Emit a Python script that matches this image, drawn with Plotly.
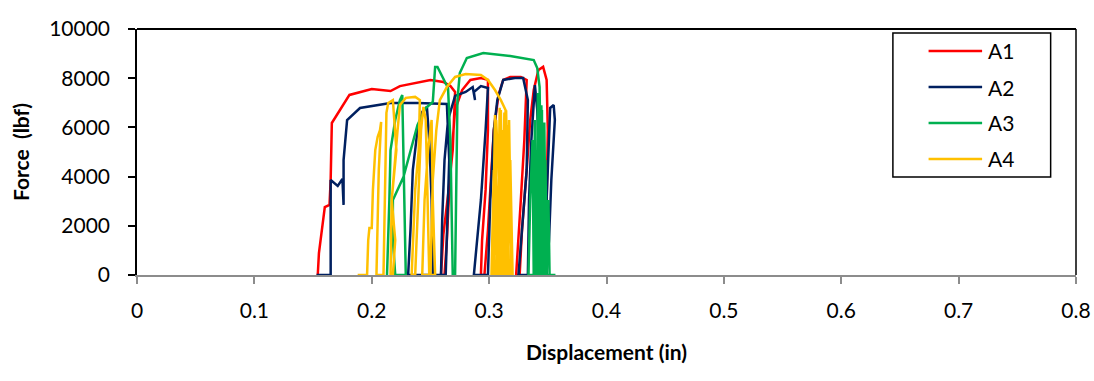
import plotly.graph_objects as go

# Series labels and line colours
series_names = ["A1", "A2", "A3", "A4"]
series_colors = ["#FF0000", "#002060", "#00B050", "#FFC000"]

# A1: displacement (in) and force (lbf)
a1_disp = [0.153, 0.154, 0.155, 0.160, 0.164, 0.165, 0.166, 0.181, 0.200, 0.216,
           0.224, 0.241, 0.250, 0.261, 0.267, 0.271, 0.269, 0.265, 0.261, 0.259,
           0.262, 0.264, 0.266, 0.269, 0.271, 0.277, 0.284, 0.293, 0.299, 0.299,
           0.297, 0.294, 0.293, 0.296, 0.299, 0.302, 0.304, 0.308, 0.312, 0.318,
           0.327, 0.332, 0.330, 0.327, 0.324, 0.323, 0.326, 0.328, 0.332, 0.335,
           0.338, 0.342, 0.346, 0.349, 0.350, 0.349, 0.348]
a1_force = [0, 0, 890, 2760, 2850, 3860, 6180, 7320, 7560, 7480,
            7680, 7850, 7930, 7850, 7680, 7440, 5080, 3250, 1630, 0,
            0, 1420, 3460, 5490, 6710, 7520, 7930, 8010, 7930, 5890,
            3460, 1420, 0, 0, 1830, 4270, 5890, 7320, 7930, 8050,
            8050, 7930, 5490, 3050, 1020, 0, 0, 1830, 4270, 6300,
            7520, 8330, 8460, 7930, 5890, 3050, 0]

# A2
a2_disp = [0.153, 0.165, 0.165, 0.171, 0.175, 0.176, 0.176, 0.179, 0.190, 0.201,
           0.216, 0.239, 0.264, 0.266, 0.264, 0.263, 0.231, 0.233, 0.235, 0.239,
           0.243, 0.247, 0.249, 0.251, 0.252, 0.259, 0.260, 0.262, 0.265, 0.271,
           0.280, 0.286, 0.288, 0.287, 0.293, 0.299, 0.297, 0.293, 0.289, 0.287,
           0.299, 0.301, 0.304, 0.307, 0.312, 0.322, 0.329, 0.333, 0.332, 0.328,
           0.325, 0.333, 0.334, 0.336, 0.339, 0.341, 0.344, 0.345, 0.348, 0.349,
           0.351, 0.352, 0.355, 0.356, 0.353, 0.351, 0.349]
a2_force = [0, 0, 3860, 3620, 3900, 2850, 4670, 6300, 6790, 6870,
            6990, 6990, 6950, 4670, 1830, 0, 0, 1830, 4270, 5890,
            6630, 6830, 5490, 3050, 0, 0, 2240, 4670, 6300, 7280,
            7440, 7640, 7110, 7440, 7680, 7600, 5890, 3050, 1020, 0,
            0, 3050, 5890, 7110, 7930, 8010, 8010, 7110, 4270, 1830,
            0, 0, 3050, 5490, 7720, 6710, 3050, 0, 0, 3050,
            5890, 6790, 6910, 6300, 3860, 1420, 0]

# A3
a3_disp = [0.212, 0.213, 0.215, 0.216, 0.220, 0.224, 0.226, 0.227, 0.228, 0.229,
           0.220, 0.218, 0.218, 0.227, 0.239, 0.246, 0.252, 0.254, 0.256, 0.261,
           0.265, 0.267, 0.268, 0.269, 0.271, 0.272, 0.273, 0.275, 0.281, 0.295,
           0.318, 0.338, 0.341, 0.343, 0.344, 0.345, 0.3335, 0.335, 0.337, 0.338,
           0.339, 0.340, 0.342, 0.343, 0.344, 0.345, 0.3455, 0.3465, 0.347, 0.348,
           0.349, 0.3505, 0.3515, 0.341, 0.3415, 0.343, 0.3445, 0.346, 0.347, 0.3485,
           0.3565]
a3_force = [0, 0, 3050, 5080, 6300, 7110, 7320, 5080, 2240, 0,
            0, 1420, 3050, 3980, 6100, 6790, 7030, 8460, 8460, 8010,
            7600, 5490, 2240, 0, 0, 3860, 7110, 8210, 8820, 9020,
            8900, 8740, 8410, 7640, 3860, 0, 0, 3050, 5490, 0,
            6300, 0, 7110, 3050, 0, 6710, 0, 5890, 0, 4670,
            0, 3050, 0, 0, 7400, 0, 6900, 0, 6200, 0,
            0]

# A4
a4_disp = [0.188, 0.196, 0.197, 0.198, 0.200, 0.201, 0.203, 0.205, 0.207, 0.208,
           0.206, 0.205, 0.204, 0.210, 0.211, 0.212, 0.2125, 0.214, 0.218, 0.221,
           0.217, 0.220, 0.218, 0.216, 0.217, 0.222, 0.224, 0.229, 0.237, 0.241,
           0.240, 0.237, 0.235, 0.234, 0.237, 0.239, 0.241, 0.242, 0.244, 0.246,
           0.247, 0.248, 0.249, 0.243, 0.245, 0.248, 0.251, 0.252, 0.254, 0.250,
           0.252, 0.255, 0.258, 0.264, 0.271, 0.280, 0.293, 0.299, 0.305, 0.310,
           0.314, 0.313, 0.310, 0.307, 0.310, 0.312, 0.304, 0.306, 0.309, 0.306,
           0.309, 0.311, 0.315, 0.313, 0.316, 0.317, 0.316, 0.302, 0.304, 0.307,
           0.310, 0.312, 0.310, 0.314, 0.317, 0.319, 0.318, 0.320, 0.303, 0.305,
           0.307, 0.309, 0.311, 0.313, 0.315, 0.317, 0.319, 0.3165, 0.3145, 0.312,
           0.308, 0.3095, 0.306]
a4_force = [0, 0, 1420, 1910, 1910, 3460, 5080, 5610, 5890, 6220,
            4270, 1830, 0, 0, 3050, 5490, 6590, 6990, 7110, 5080,
            3050, 1420, 0, 0, 3050, 5890, 6910, 7200, 7240, 7110,
            5080, 3460, 1420, 0, 0, 2240, 4270, 5890, 6830, 6300,
            4270, 2240, 0, 0, 3050, 5080, 6300, 3050, 0, 0,
            3860, 5890, 7110, 7640, 8050, 8170, 8130, 7930, 7520, 7110,
            6710, 3860, 0, 0, 5080, 0, 0, 6300, 3050, 0,
            0, 5890, 0, 0, 6100, 3050, 0, 0, 4270, 0,
            6710, 0, 0, 5490, 0, 0, 4670, 0, 0, 6500,
            0, 6800, 0, 6600, 0, 6300, 0, 0, 6700, 0,
            0, 6200, 0]

x_ticks = [0, 0.1, 0.2, 0.3, 0.4, 0.5, 0.6, 0.7, 0.8]
y_ticks = [0, 2000, 4000, 6000, 8000, 10000]

series = [(a1_disp, a1_force), (a2_disp, a2_force), (a3_disp, a3_force), (a4_disp, a4_force)]

FONT = "Lato, 'Open Sans', sans-serif"

fig = go.Figure()
for name, color, (xs, ys) in zip(series_names, series_colors, series):
    fig.add_trace(go.Scatter(
        x=xs, y=ys, mode="lines", name=name,
        line=dict(color=color, width=2.5),
        showlegend=False,
    ))

fig.update_layout(
    width=1094, height=381,
    margin=dict(l=137, r=18, t=29, b=106, autoexpand=False),
    paper_bgcolor="white", plot_bgcolor="white",
    font=dict(family=FONT, size=21, color="black"),
    xaxis=dict(
        range=[0, 0.8], tickmode="array", tickvals=x_ticks,
        ticktext=[f"{v:g}" for v in x_ticks],
        showgrid=False, zeroline=False, automargin=False,
        showline=True, linecolor="#8c8c8c", linewidth=2,
        ticks="outside", ticklen=7, tickwidth=1.5, tickcolor="#8c8c8c",
        ticklabelstandoff=9, layer="below traces",
        title=dict(text="<b>Displacement (in)</b>", standoff=24,
                   font=dict(family=FONT, size=21)),
    ),
    yaxis=dict(
        range=[0, 10000], tickmode="array", tickvals=y_ticks,
        ticktext=[str(v) for v in y_ticks],
        showgrid=False, zeroline=False, automargin=False,
        showline=True, linecolor="black", linewidth=1.5,
        ticks="outside", ticklen=7, tickwidth=1.5, tickcolor="black",
        ticklabelstandoff=14,
        title=dict(text="<b>Force\u00a0 (lbf)</b>", standoff=14,
                   font=dict(family=FONT, size=21)),
    ),
)

# Plot-area frame on the top and right sides
fig.add_shape(type="line", xref="paper", yref="paper", x0=0, x1=1, y0=1, y1=1,
              line=dict(color="black", width=2))
fig.add_shape(type="line", xref="paper", yref="paper", x0=1, x1=1, y0=0, y1=1,
              line=dict(color="black", width=1.5))

# Boxed legend in the upper right corner
leg_x0, leg_x1, leg_y0, leg_y1 = 0.805, 0.973, 0.398, 0.984
fig.add_shape(type="rect", xref="paper", yref="paper",
              x0=leg_x0, x1=leg_x1, y0=leg_y0, y1=leg_y1,
              line=dict(color="black", width=1.5), fillcolor="white")
row_y = [0.911, 0.764, 0.618, 0.472]
for name, color, ry in zip(series_names, series_colors, row_y):
    fig.add_shape(type="line", xref="paper", yref="paper",
                  x0=0.843, x1=0.900, y0=ry, y1=ry,
                  line=dict(color=color, width=2.5))
    fig.add_annotation(xref="paper", yref="paper", x=0.904, y=ry,
                       text=name, showarrow=False, xanchor="left", yanchor="middle",
                       font=dict(family=FONT, size=21, color="black"))

fig.write_html("out.html")
